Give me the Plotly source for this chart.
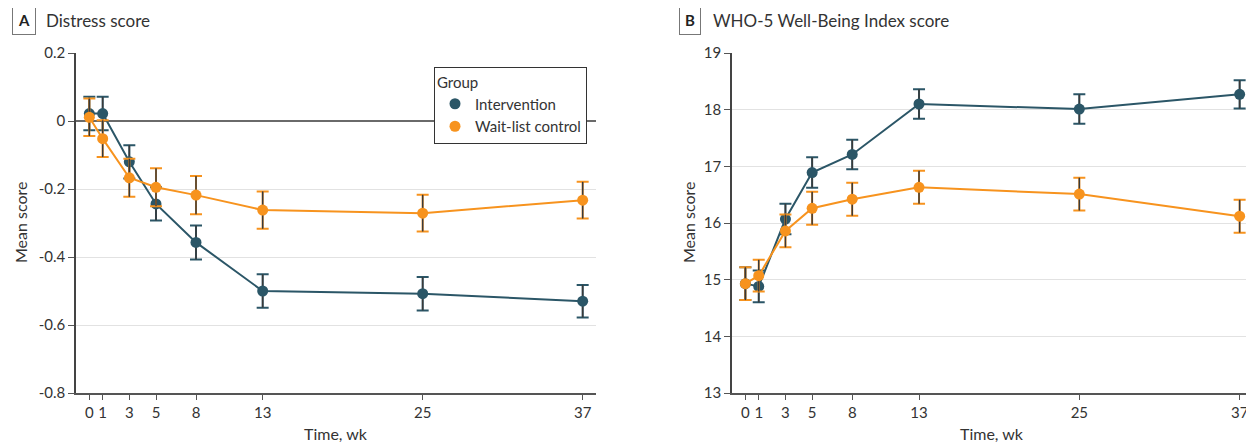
import plotly.graph_objects as go

weeks = [0, 1, 3, 5, 8, 13, 25, 37]
week_ticks = [0, 1, 3, 5, 8, 13, 25, 37]

group_names = ["Intervention", "Wait-list control"]
group_colors = ["#2b5667", "#f7931e"]

distress_intervention = [0.022, 0.022, -0.12, -0.244, -0.357, -0.50, -0.508, -0.53]
distress_intervention_err = [0.049, 0.049, 0.049, 0.049, 0.05, 0.049, 0.049, 0.048]
distress_waitlist = [0.011, -0.052, -0.167, -0.195, -0.218, -0.262, -0.271, -0.233]
distress_waitlist_err = [0.055, 0.054, 0.056, 0.056, 0.056, 0.055, 0.054, 0.054]

who5_intervention = [14.93, 14.88, 16.07, 16.89, 17.21, 18.10, 18.01, 18.27]
who5_intervention_err = [0.29, 0.28, 0.27, 0.27, 0.26, 0.26, 0.26, 0.25]
who5_waitlist = [14.93, 15.07, 15.86, 16.26, 16.42, 16.63, 16.51, 16.12]
who5_waitlist_err = [0.29, 0.28, 0.29, 0.29, 0.29, 0.29, 0.29, 0.29]

distress_ticks = [-0.8, -0.6, -0.4, -0.2, 0, 0.2]
distress_ticktext = ["-0.8", "-0.6", "-0.4", "-0.2", "0", "0.2"]
who5_ticks = [13, 14, 15, 16, 17, 18, 19]
who5_ticktext = ["13", "14", "15", "16", "17", "18", "19"]

FONT = "Lato, 'Open Sans', sans-serif"
STEM = "#3a3a3a"
TXT = "#333"

fig = go.Figure()


def add_series(x, y, err, color, xa, ya):
    # colored caps
    fig.add_trace(go.Scatter(
        x=x, y=y, mode="markers", xaxis=xa, yaxis=ya, showlegend=False,
        marker=dict(size=1, color="rgba(0,0,0,0)"),
        error_y=dict(type="data", array=err, visible=True, color=color,
                     thickness=2, width=6),
        hoverinfo="skip"))
    # dark stems
    fig.add_trace(go.Scatter(
        x=x, y=y, mode="markers", xaxis=xa, yaxis=ya, showlegend=False,
        marker=dict(size=1, color="rgba(0,0,0,0)"),
        error_y=dict(type="data", array=err, visible=True, color=STEM,
                     thickness=1.5, width=0),
        hoverinfo="skip"))
    fig.add_trace(go.Scatter(
        x=x, y=y, mode="lines+markers", xaxis=xa, yaxis=ya, showlegend=False,
        line=dict(color=color, width=2),
        marker=dict(size=11, color=color)))


add_series(weeks, distress_intervention, distress_intervention_err, group_colors[0], "x", "y")
add_series(weeks, distress_waitlist, distress_waitlist_err, group_colors[1], "x", "y")
add_series(weeks, who5_intervention, who5_intervention_err, group_colors[0], "x2", "y2")
add_series(weeks, who5_waitlist, who5_waitlist_err, group_colors[1], "x2", "y2")

for name, color in zip(group_names, group_colors):
    fig.add_trace(go.Scatter(x=[None], y=[None], mode="markers", name=name,
                             marker=dict(size=11, color=color)))

# page body has an 8px margin; figure sized to fill the rest of the window
OFF = 8
W, H = 1254 - OFF, 444 - OFF


def px(v):
    return (v - OFF) / W


def py(v):
    return 1 - (v - OFF) / H


top, bottom = 53, 393
ydom = [py(bottom), py(top)]
xdomA = [px(76), px(596)]
xdomB = [px(732), min(1.0, px(1253))]

xaxis_common = dict(range=[-1, 38], tickvals=week_ticks, showgrid=False, automargin=False,
                    zeroline=False, showline=True, linecolor="#555", linewidth=1.5,
                    ticks="outside", ticklen=5, tickcolor="#555", tickwidth=1.2,
                    tickfont=dict(family=FONT, size=15, color=TXT))
yaxis_common = dict(showgrid=True, gridcolor="#e2e2e2", gridwidth=1.2, automargin=False,
                    showline=True, linecolor="#444", linewidth=1.5,
                    ticks="outside", ticklen=6, tickcolor="#555", tickwidth=1.2,
                    tickfont=dict(family=FONT, size=15, color=TXT))

fig.update_layout(
    width=W, height=H,
    template="none",
    margin=dict(l=0, r=0, t=0, b=0, pad=0, autoexpand=False),
    paper_bgcolor="white", plot_bgcolor="white",
    font=dict(family=FONT, size=15, color=TXT),
    xaxis=dict(domain=xdomA, anchor="y", **xaxis_common),
    yaxis=dict(domain=ydom, anchor="x", range=[-0.8, 0.2], tickvals=distress_ticks,
               ticktext=distress_ticktext, zeroline=True, zerolinecolor="#6a6a6a",
               zerolinewidth=1.5, **yaxis_common),
    xaxis2=dict(domain=xdomB, anchor="y2", **xaxis_common),
    yaxis2=dict(domain=ydom, anchor="x2", range=[13, 19], tickvals=who5_ticks,
                ticktext=who5_ticktext, zeroline=False, **yaxis_common),
    legend=dict(x=px(434), y=py(67), xanchor="left", yanchor="top",
                bgcolor="white", bordercolor="#333", borderwidth=1,
                title=dict(text="Group", font=dict(family=FONT, size=15, color=TXT)),
                font=dict(family=FONT, size=15, color=TXT),
                itemwidth=30, tracegroupgap=0),
    showlegend=True,
)

annotations = [
    dict(text="<b>A</b>", x=px(23.5), y=py(20), xanchor="center", yanchor="middle",
         bordercolor="#777", borderwidth=1, borderpad=5, bgcolor="white",
         font=dict(family=FONT, size=15, color="#222")),
    dict(text="Distress score", x=px(44), y=py(20), xanchor="left", yanchor="middle",
         font=dict(family=FONT, size=17, color=TXT)),
    dict(text="<b>B</b>", x=px(690.5), y=py(20), xanchor="center", yanchor="middle",
         bordercolor="#777", borderwidth=1, borderpad=5, bgcolor="white",
         font=dict(family=FONT, size=15, color="#222")),
    dict(text="WHO-5 Well-Being Index score", x=px(711), y=py(20), xanchor="left",
         yanchor="middle", font=dict(family=FONT, size=17, color=TXT)),
    dict(text="Mean score", x=px(20), y=py(223), textangle=-90, xanchor="center",
         yanchor="middle", font=dict(family=FONT, size=16, color=TXT)),
    dict(text="Mean score", x=px(688), y=py(223), textangle=-90, xanchor="center",
         yanchor="middle", font=dict(family=FONT, size=16, color=TXT)),
    dict(text="Time, wk", x=px(336), y=py(433), xanchor="center", yanchor="middle",
         font=dict(family=FONT, size=16, color=TXT)),
    dict(text="Time, wk", x=px(992), y=py(433), xanchor="center", yanchor="middle",
         font=dict(family=FONT, size=16, color=TXT)),
]
for a in annotations:
    a.update(xref="paper", yref="paper", showarrow=False)
fig.update_layout(annotations=annotations)

fig.write_html("out.html")
